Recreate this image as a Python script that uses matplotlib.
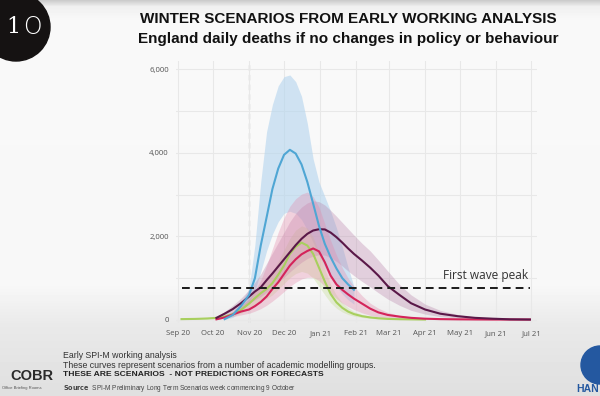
import numpy as np
import pandas as pd
import matplotlib
matplotlib.use("Agg")
import matplotlib.pyplot as plt
from matplotlib.patches import Circle

# day offsets from 1 Sep 2020
start = pd.Timestamp("2020-09-01")
days = [3, 15, 25, 33, 40, 47, 54, 61, 66, 71, 76, 81, 86, 91, 96, 101, 106, 111,
        116, 121, 126, 131, 136, 141, 146, 151, 158, 165, 172, 180, 190, 200, 212,
        225, 240, 255, 270, 285, 302]

blue_days = days[4:26]
blue = [20, 120, 330, 600, 1000, 1780, 2450, 3130, 3620, 3950, 4070, 3980, 3720,
        3300, 2780, 2250, 1820, 1500, 1230, 1000, 850, 720]
blue_hi = [30, 200, 420, 750, 1800, 3300, 4500, 5150, 5600, 5820, 5860, 5700, 5350,
           4700, 3850, 3300, 2950, 2600, 2200, 1750, 1250, 800]
blue_lo = [10, 60, 200, 420, 700, 1150, 1650, 2050, 2350, 2550, 2600, 2550, 2400,
           2150, 1850, 1550, 1250, 1000, 800, 620, 480, 380]

purple_days = days[3:]
purple = [50, 150, 260, 400, 560, 680, 780, 950, 1110, 1280, 1450, 1620, 1790, 1940,
          2060, 2140, 2170, 2165, 2090, 1980, 1850, 1710, 1580, 1420, 1250, 1060,
          810, 600, 400, 250, 150, 90, 50, 30, 15, 10]
purple_hi = [70, 200, 350, 520, 720, 900, 1100, 1350, 1600, 1850, 2100, 2350, 2550,
             2700, 2800, 2850, 2830, 2750, 2620, 2480, 2330, 2180, 2030, 1830, 1650,
             1430, 1170, 850, 600, 380, 230, 130, 70, 40, 20, 12]
purple_lo = [30, 100, 180, 280, 400, 480, 560, 660, 780, 900, 1020, 1150, 1270, 1380,
             1470, 1530, 1560, 1550, 1490, 1400, 1290, 1170, 1060, 920, 790, 650,
             500, 350, 230, 140, 80, 50, 30, 18, 10, 8]

red_days = days[3:]
red = [15, 60, 130, 200, 250, 330, 430, 560, 740, 900, 1100, 1300, 1450, 1570, 1650,
       1710, 1640, 1380, 1060, 850, 720, 610, 510, 390, 270, 180, 120, 80, 50, 30,
       20, 15, 12, 10, 10, 10]
red_hi = [20, 90, 200, 330, 500, 700, 950, 1300, 1700, 2100, 2450, 2720, 2900, 3010,
          3060, 2950, 2700, 2300, 1900, 1550, 1250, 1000, 800, 580, 400, 280, 180,
          110, 70, 45, 30, 22, 16, 13, 12, 11]
red_lo = [10, 40, 80, 120, 160, 210, 270, 350, 450, 560, 680, 800, 900, 980, 1020,
          1020, 940, 800, 640, 510, 400, 320, 250, 170, 110, 70, 45, 30, 20, 12, 9,
          8, 7, 6, 6, 6]

green_days = days[:33]
green = [20, 25, 35, 50, 80, 140, 240, 390, 520, 640, 740, 880, 1080, 1300, 1580,
         1750, 1850, 1780, 1580, 1250, 920, 620, 420, 290, 200, 140, 90, 60, 40, 25,
         18, 14, 10]
green_hi = [30, 35, 50, 70, 110, 190, 320, 510, 680, 850, 980, 1150, 1400, 1680, 1950,
            2150, 2250, 2200, 1980, 1620, 1220, 850, 590, 410, 290, 200, 130, 85, 55,
            35, 22, 15, 12]
green_lo = [12, 15, 22, 32, 55, 95, 160, 260, 350, 440, 510, 600, 730, 870, 1010,
            1110, 1160, 1120, 1000, 800, 600, 410, 280, 190, 130, 90, 58, 38, 25, 16,
            10, 8, 6]

first_wave_peak = 765
policy_date = pd.Timestamp("2020-11-01")
month_ticks = pd.date_range("2020-09-01", "2021-07-01", freq="MS")
y_ticks = [0, 2000, 4000, 6000]


def to_dates(d):
    return start + pd.to_timedelta(d, unit="D")


fig = plt.figure(figsize=(6, 3.96), dpi=100)

# slide background
bg = fig.add_axes([0, 0, 1, 1], zorder=-5)
yy = np.array([0, 6, 20, 285, 325, 396])
gg = np.array([0.80, 0.94, 0.975, 0.97, 0.915, 0.875])
col = np.interp(np.arange(396), yy, gg)
bg.imshow(np.repeat(col[:, None], 600, axis=1), cmap="gray", vmin=0, vmax=1,
          aspect="auto", extent=[0, 600, 396, 0])
bg.set_xlim(0, 600)
bg.set_ylim(396, 0)
bg.axis("off")

ax = fig.add_axes([0.2928, 0.1836, 0.602, 0.663])
ax.patch.set_alpha(0)

ax.fill_between(to_dates(blue_days), blue_lo, blue_hi, color="#b3d4ee", alpha=0.6,
                lw=0, zorder=1)
ax.fill_between(to_dates(green_days), green_lo, green_hi, color="#cfe2a8", alpha=0.45,
                lw=0, zorder=2)
ax.fill_between(to_dates(purple_days), purple_lo, purple_hi, color="#b985ab", alpha=0.35,
                lw=0, zorder=2)
ax.fill_between(to_dates(red_days), red_lo, red_hi, color="#e48aac", alpha=0.35,
                lw=0, zorder=2)

ax.plot(to_dates(green_days), green, color="#a8cf5e", lw=1.5, zorder=4)
ax.plot(to_dates(red_days), red, color="#d4245a", lw=1.5, zorder=5)
ax.plot(to_dates(purple_days), purple, color="#5a1848", lw=1.5, zorder=5)
ax.plot(to_dates(blue_days), blue, color="#4fa6d4", lw=1.5, zorder=6)

ax.hlines(first_wave_peak, to_dates(days[0]), to_dates(days[-1]), colors="#1a1a1a",
          linestyles=(0, (4, 2.6)), lw=1.4, zorder=7)
ax.annotate("First wave peak", (to_dates(days[-1]), first_wave_peak),
            xytext=(-1, 4), textcoords="offset points", ha="right", va="bottom",
            fontsize=8.6, color="#333333", family="Open Sans", zorder=8)
ax.axvline(policy_date, color="#cfcfcf", lw=1, ls=(0, (4, 3)), zorder=0.5)

ax.set_xlim(to_dates(-2), to_dates(308))
ax.set_ylim(-80, 6200)
ax.set_xticks(month_ticks)
ax.set_xticklabels([d.strftime("%b %y") for d in month_ticks])
ax.set_yticks(range(0, 6001, 1000), minor=False)
ax.set_yticklabels([f"{v:,}" if v in y_ticks else "" for v in range(0, 6001, 1000)])
ax.grid(True, color="#e8e8e8", lw=0.8, zorder=0)
ax.set_axisbelow(True)
for s in ax.spines.values():
    s.set_visible(False)
ax.tick_params(length=0, labelsize=5.6, labelcolor="#555555", pad=5)
for lab in ax.get_xticklabels() + ax.get_yticklabels():
    lab.set_family("Open Sans")

# titles
fig.text(0.58, 1 - 19 / 396, "WINTER SCENARIOS FROM EARLY WORKING ANALYSIS",
         ha="center", va="center", fontsize=11, fontweight="bold",
         family="Liberation Sans", color="#111111")
fig.text(0.58, 1 - 39 / 396, "England daily deaths if no changes in policy or behaviour",
         ha="center", va="center", fontsize=11, fontweight="bold",
         family="Liberation Sans", color="#111111")

# No 10 logo
fig.add_artist(Circle((0.16, 3.96 - 0.27), 0.34, transform=fig.dpi_scale_trans,
                      color="#151212", zorder=3))
fig.text(6 / 600, 1 - 27 / 396, "1", ha="left", va="center", fontsize=16,
         color="white", family="DejaVu Serif", zorder=4)
fig.text(32 / 600, 1 - 27 / 396, "O", ha="center", va="center", fontsize=17,
         color="white", family="DejaVu Sans", fontweight="light", zorder=4)

# footnotes
fig.text(63 / 600, 1 - 355 / 396, "Early SPI-M working analysis", fontsize=6.3,
         va="center", color="#333333", family="Liberation Sans")
fig.text(63 / 600, 1 - 365 / 396,
         "These curves represent scenarios from a number of academic modelling groups.",
         fontsize=6.3, va="center", color="#333333", family="Liberation Sans")
fig.text(63 / 600, 1 - 375 / 396, "THESE ARE SCENARIOS  - NOT PREDICTIONS OR FORECASTS",
         fontsize=6.1, va="center", fontweight="bold", color="#222222",
         family="Liberation Sans")
fig.text(63 / 600, 1 - 388 / 396, r"$\bf{Source}$  SPI-M Preliminary Long Term Scenarios week commencing 9 October",
         fontsize=4.7, va="center", color="#444444", family="Liberation Sans")

# COBR mark
fig.text(10 / 600, 1 - 376 / 396, "COBR", fontsize=10.5, fontweight="bold",
         va="center", color="#2a2a2a", family="Liberation Sans")
fig.text(2 / 600, 1 - 388 / 396, "Office Briefing Rooms", fontsize=3,
         va="center", color="#555555", family="Liberation Sans")

# HAN logo (right edge)
fig.add_artist(Circle((6.0, 3.96 - 3.65), 0.19, transform=fig.dpi_scale_trans,
                      color="#2458a0", zorder=3))
fig.text(599 / 600, 1 - 389 / 396, "HAN", fontsize=7.5, fontweight="bold",
         ha="right", va="center", color="#2458a0", family="Liberation Sans")

fig.savefig("out.png", dpi=100)
